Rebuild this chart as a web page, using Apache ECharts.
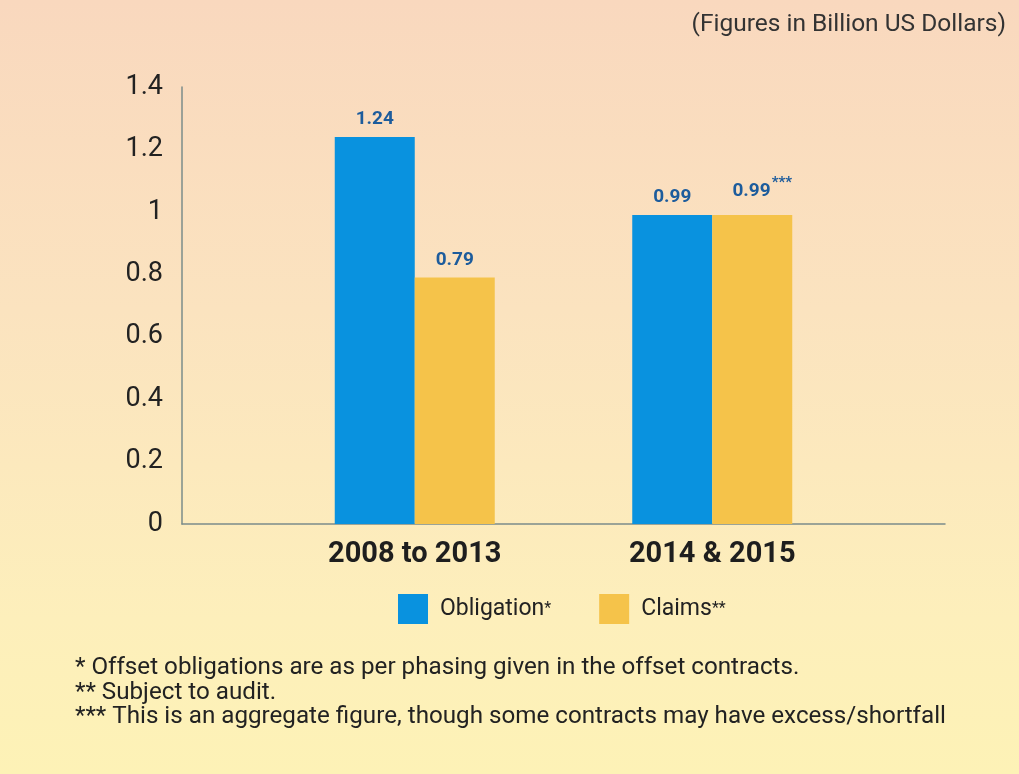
<!DOCTYPE html>
<html>
<head>
<meta charset="utf-8">
<script src="https://cdn.jsdelivr.net/npm/echarts@6/dist/echarts.min.js"></script>
<style>
html,body{margin:0;padding:0;width:1019px;height:774px;overflow:hidden;}
#c{width:1019px;height:774px;background:linear-gradient(to bottom,#f9d8be 0%,#fbe3bf 40%,#fdefbb 80%,#fdf2b6 100%);}
</style>
</head>
<body>
<div id="c"></div>
<script>
const categories = ['2008 to 2013', '2014 & 2015'];
const seriesNames = ['Obligation*', 'Claims**'];
const obligation = [1.24, 0.99];
const claims = [0.79, 0.99];
const yTicks = { min: 0, max: 1.4, interval: 0.2 };
const unitNote = '(Figures in Billion US Dollars)';
const footnotes = [
  '* Offset obligations are as per phasing given in the offset contracts.',
  '** Subject to audit.',
  '*** This is an aggregate figure, though some contracts may have excess/shortfall'
];

const chart = echarts.init(document.getElementById('c'), null, { renderer: 'canvas' });
const FONT = 'Roboto';
const axisGrey = '#7b8c8a';
const labelBlue = '#1d5c9c';

const labelStyle = {
  show: true, position: 'top', distance: 8,
  color: labelBlue, fontFamily: FONT, fontWeight: 'bold', fontSize: 19
};

const claimsData = claims.map((v, i) => {
  if (i === 1) {
    return {
      value: v,
      label: {
        formatter: '{v|{c}}{s|***}',
        offset: [10, 0],
        rich: {
          v: { color: labelBlue, fontFamily: FONT, fontWeight: 'bold', fontSize: 19 },
          s: { color: labelBlue, fontFamily: FONT, fontWeight: 'bold', fontSize: 15, verticalAlign: 'top', padding: [0, 0, 16, 1] }
        }
      }
    };
  }
  return v;
});

chart.setOption({
  animation: false,
  backgroundColor: 'transparent',
  textStyle: { fontFamily: FONT },
  grid: [
    { left: 182, right: 74, top: 87, bottom: 250 },
    { left: 266, right: 158, top: 87, bottom: 250 }
  ],
  xAxis: [
    { gridIndex: 0, type: 'category', data: categories, axisLine: { lineStyle: { color: axisGrey, width: 1.5 } },
      axisTick: { show: false }, axisLabel: { show: false }, splitLine: { show: false } },
    { gridIndex: 1, type: 'category', data: categories, axisLine: { show: false }, axisTick: { show: false },
      axisLabel: { margin: 16, color: '#1e1e1e', fontFamily: FONT, fontWeight: 'bold', fontSize: 29 } }
  ],
  yAxis: [
    { gridIndex: 0, type: 'value', min: yTicks.min, max: yTicks.max, interval: yTicks.interval,
      axisLine: { show: true, lineStyle: { color: axisGrey, width: 1.5 } }, axisTick: { show: false },
      splitLine: { show: false },
      axisLabel: { margin: 19, color: '#222', fontFamily: FONT, fontSize: 27 } },
    { gridIndex: 1, type: 'value', min: yTicks.min, max: yTicks.max, interval: yTicks.interval,
      show: false, splitLine: { show: false } }
  ],
  legend: {
    left: 393, top: 589, itemWidth: 30, itemHeight: 30, itemGap: 48,
    icon: 'rect',
    formatter: function (name) {
      const base = name.replace(/\*+$/, '');
      const stars = name.slice(base.length);
      return '{t|' + base + '}{s|' + stars + '}';
    },
    textStyle: {
      color: '#222', fontFamily: FONT, fontSize: 24,
      rich: {
        t: { color: '#222', fontFamily: FONT, fontSize: 23, padding: [0, 0, 0, 7] },
        s: { color: '#222', fontFamily: FONT, fontSize: 16 }
      }
    },
    data: seriesNames
  },
  title: {
    text: unitNote, right: 8, top: 7,
    textStyle: { color: '#333', fontFamily: FONT, fontWeight: 'normal', fontSize: 24.5 }
  },
  graphic: footnotes.map((t, i) => ({
    type: 'text', left: 75, top: 656 + i * 24.5,
    style: { text: t, fill: '#222', font: '24.2px Roboto' }
  })),
  series: [
    { name: seriesNames[0], type: 'bar', xAxisIndex: 1, yAxisIndex: 1, data: obligation,
      barWidth: 80, barGap: '0%', itemStyle: { color: '#0992df' }, label: labelStyle },
    { name: seriesNames[1], type: 'bar', xAxisIndex: 1, yAxisIndex: 1, data: claimsData,
      barWidth: 80, barGap: '0%', itemStyle: { color: '#f5c34a' }, label: labelStyle }
  ]
});
</script>
</body>
</html>
